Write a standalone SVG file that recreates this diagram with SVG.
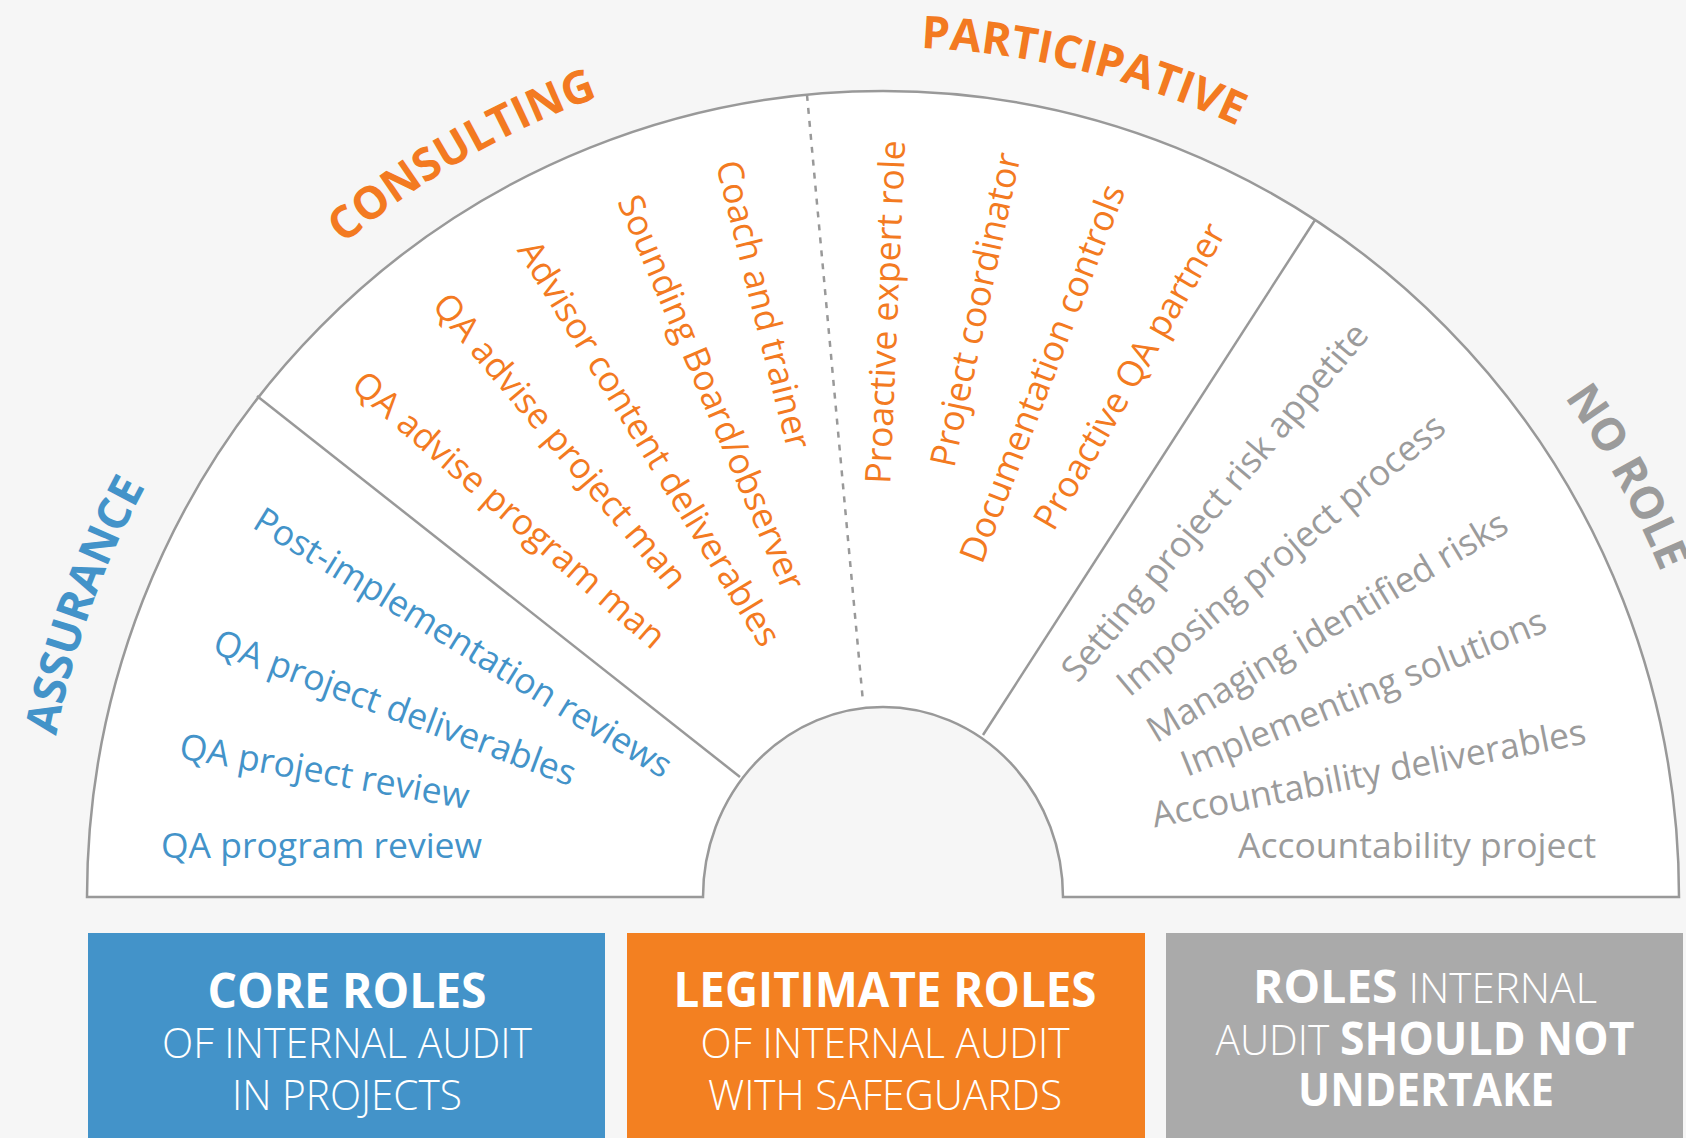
<svg xmlns="http://www.w3.org/2000/svg" width="1686" height="1138" viewBox="0 0 1686 1138">
<style>
.it{font-family:"Open Sans","Liberation Sans",sans-serif;font-size:35.5px}
.cat{font-family:"Open Sans","Liberation Sans",sans-serif;font-size:45px;font-weight:700}
.blue{fill:#4393c9}.orange{fill:#f37a21}.gray{fill:#9b9b9b}
.bx{font-family:"Open Sans","Liberation Sans",sans-serif;fill:#ffffff;text-anchor:middle}
.b{font-weight:700}.l{font-weight:300}
.ln{stroke:#999999;stroke-width:2.5;fill:none}
</style>
<defs>
<path id="labelArc" d="M 41,897 A 842 850 0 0 1 1725,897"/>
</defs>
<rect x="0" y="0" width="1686" height="1138" fill="#f6f6f6"/>
<g id="fan">
<path d="M 87,897 A 796 806 0 0 1 1679,897 L 1063,897 A 180 190 0 0 0 703,897 Z" fill="#ffffff" stroke="#999999" stroke-width="2.5"/>
</g>
<g id="connectors">
<line class="ln" x1="257" y1="396" x2="740" y2="777"/>
<line class="ln" x1="807" y1="95" x2="863" y2="702" stroke-dasharray="6 7" stroke-width="2.8"/>
<line class="ln" x1="1315" y1="220" x2="983" y2="735"/>
</g>
<g id="labels">
<text class="cat blue"><textPath href="#labelArc" startOffset="11.1%" text-anchor="middle">ASSURANCE</textPath></text>
<text class="cat orange"><textPath href="#labelArc" startOffset="33.5%" text-anchor="middle">CONSULTING</textPath></text>
<text class="cat orange"><textPath href="#labelArc" startOffset="57.6%" text-anchor="middle">PARTICIPATIVE</textPath></text>
<text class="cat gray"><textPath href="#labelArc" startOffset="83.7%" text-anchor="middle">NO ROLE</textPath></text>
</g>
<g id="assurance">
<text class="it blue" x="161" y="858">QA program review</text>
<text class="it blue" transform="translate(178,758) rotate(10)">QA project review</text>
<text class="it blue" transform="translate(211,652) rotate(20.5)">QA project deliverables</text>
<text class="it blue" transform="translate(251,527) rotate(31.5)">Post-implementation reviews</text>
</g>
<g id="consulting" text-anchor="middle">
<text class="it orange" dy="0.3em" transform="translate(508,511) rotate(41)">QA advise program man</text>
<text class="it orange" dy="0.3em" transform="translate(559,442) rotate(50)">QA advise project man</text>
<text class="it orange" dy="0.3em" transform="translate(648,444) rotate(58.5)">Advisor content deliverables</text>
<text class="it orange" dy="0.3em" transform="translate(710,393) rotate(67)">Sounding Board/observer</text>
<text class="it orange" dy="0.3em" transform="translate(762,305) rotate(76)">Coach and trainer</text>
</g>
<g id="participative" text-anchor="middle">
<text class="it orange" dy="0.3em" transform="translate(887,312) rotate(-87.5)">Proactive expert role</text>
<text class="it orange" dy="0.3em" transform="translate(977,310) rotate(-78)">Project coordinator</text>
<text class="it orange" dy="0.3em" transform="translate(1044,374) rotate(-69)">Documentation controls</text>
<text class="it orange" dy="0.3em" transform="translate(1131,377) rotate(-60)">Proactive QA partner</text>
</g>
<g id="norole" text-anchor="middle">
<text class="it gray" dy="0.3em" transform="translate(1216,503) rotate(-50)">Setting project risk appetite</text>
<text class="it gray" dy="0.3em" transform="translate(1282,556) rotate(-40)">Imposing project process</text>
<text class="it gray" dy="0.3em" transform="translate(1328,628) rotate(-31)">Managing identified risks</text>
<text class="it gray" dy="0.3em" transform="translate(1364,694) rotate(-22)">Implementing solutions</text>
<text class="it gray" dy="0.3em" transform="translate(1369,775) rotate(-11)">Accountability deliverables</text>
<text class="it gray" x="1238" y="858" text-anchor="start">Accountability project</text>
</g>
<g id="box-core">
<rect x="88" y="933" width="517" height="205" fill="#4393c9"/>
<text class="bx b" x="347" y="1008" font-size="49" textLength="279" lengthAdjust="spacingAndGlyphs">CORE ROLES</text>
<text class="bx l" x="347" y="1058" font-size="42" textLength="370" lengthAdjust="spacingAndGlyphs">OF INTERNAL AUDIT</text>
<text class="bx l" x="347" y="1110" font-size="42" textLength="230" lengthAdjust="spacingAndGlyphs">IN PROJECTS</text>
</g>
<g id="box-legitimate">
<rect x="627" y="933" width="518" height="205" fill="#f38021"/>
<text class="bx b" x="885" y="1007" font-size="49" textLength="423" lengthAdjust="spacingAndGlyphs">LEGITIMATE ROLES</text>
<text class="bx l" x="885" y="1058" font-size="42" textLength="369" lengthAdjust="spacingAndGlyphs">OF INTERNAL AUDIT</text>
<text class="bx l" x="885" y="1110" font-size="42" textLength="354" lengthAdjust="spacingAndGlyphs">WITH SAFEGUARDS</text>
</g>
<g id="box-norole">
<rect x="1166" y="933" width="517" height="205" fill="#aaaaaa"/>
<text class="bx" x="1425" y="1003" font-size="42" textLength="344" lengthAdjust="spacingAndGlyphs"><tspan class="b" font-size="46">ROLES</tspan><tspan class="l"> INTERNAL</tspan></text>
<text class="bx" x="1425" y="1055" font-size="42" textLength="419" lengthAdjust="spacingAndGlyphs"><tspan class="l">AUDIT </tspan><tspan class="b" font-size="46">SHOULD NOT</tspan></text>
<text class="bx b" x="1426" y="1106" font-size="46" textLength="256" lengthAdjust="spacingAndGlyphs">UNDERTAKE</text>
</g>
</svg>
